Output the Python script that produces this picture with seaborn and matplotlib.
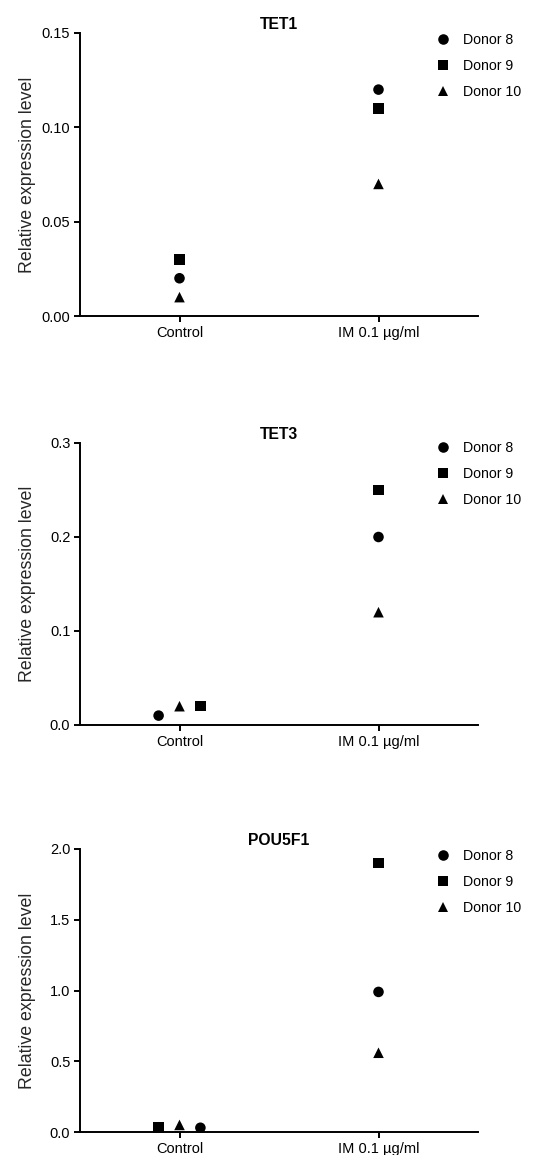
import numpy as np
import pandas as pd
import matplotlib
matplotlib.use("Agg")
import matplotlib.pyplot as plt
import matplotlib.ticker as mticker
from matplotlib.lines import Line2D
import seaborn as sns

# ── data ──────────────────────────────────────────────────────
GROUPS = ["Control", "IM 0.1 µg/ml"]
DONORS = ["Donor 8", "Donor 9", "Donor 10"]
GENES = ["TET1", "TET3", "POU5F1"]

# values per donor (8, 9, 10)
tet1_control = [0.02, 0.03, 0.01]
tet1_im = [0.12, 0.11, 0.07]
tet3_control = [0.01, 0.02, 0.02]
tet3_im = [0.20, 0.25, 0.12]
pou5f1_control = [0.03, 0.03, 0.05]
pou5f1_im = [0.99, 1.90, 0.56]

# y axis ranges / ticks per gene
YMAX = {"TET1": 0.15, "TET3": 0.3, "POU5F1": 2.0}
YSTEP = {"TET1": 0.05, "TET3": 0.1, "POU5F1": 0.5}
YFMT = {"TET1": "%.2f", "TET3": "%.1f", "POU5F1": "%.1f"}

# horizontal nudge to keep overlapping points apart (donor 8, 9, 10)
NUDGE = {
    "TET1": {"Control": [0, 0, 0], "IM 0.1 µg/ml": [0, 0, 0]},
    "TET3": {"Control": [-0.105, 0.105, 0], "IM 0.1 µg/ml": [0, 0, 0]},
    "POU5F1": {"Control": [0.105, -0.105, 0], "IM 0.1 µg/ml": [0, 0, 0]},
}

values = {
    "TET1": {"Control": tet1_control, "IM 0.1 µg/ml": tet1_im},
    "TET3": {"Control": tet3_control, "IM 0.1 µg/ml": tet3_im},
    "POU5F1": {"Control": pou5f1_control, "IM 0.1 µg/ml": pou5f1_im},
}

MARKERS = {"Donor 8": "o", "Donor 9": "s", "Donor 10": "^"}
MSIZE = 7.6  # points

# ── style ─────────────────────────────────────────────────────
sns.set_style("ticks")
plt.rcParams["font.family"] = ["Liberation Sans", "DejaVu Sans"]
plt.rcParams.update({
    "axes.linewidth": 1.4,
    "xtick.major.width": 1.4,
    "ytick.major.width": 1.4,
    "xtick.major.size": 4,
    "ytick.major.size": 4,
    "xtick.color": "black",
    "ytick.color": "black",
    "axes.edgecolor": "black",
    "text.color": "black",
})

W, H = 555, 1155
fig = plt.figure(figsize=(W / 100, H / 100), dpi=100)

# axes boxes in pixels: (left, top, right, bottom)
BOXES = {
    "TET1": (80, 33, 478, 316),
    "TET3": (80, 443, 478, 725),
    "POU5F1": (80, 849, 478, 1132),
}
LEGEND_TOP = {"TET1": 33, "TET3": 441, "POU5F1": 849}

for gene in GENES:
    l, t, r, b = BOXES[gene]
    ax = fig.add_axes([l / W, 1 - b / H, (r - l) / W, (b - t) / H])

    rows = []
    for gi, grp in enumerate(GROUPS):
        for di, donor in enumerate(DONORS):
            rows.append({"group": grp, "donor": donor,
                         "value": values[gene][grp][di],
                         "xpos": gi + NUDGE[gene][grp][di]})
    df = pd.DataFrame(rows)

    sns.scatterplot(data=df, x="xpos", y="value", style="donor",
                    style_order=DONORS, markers=MARKERS, color="black",
                    s=MSIZE ** 2, linewidth=0, ax=ax, clip_on=False,
                    zorder=3, legend=False)

    ax.set_xlim(-0.5, 1.5)
    ax.set_ylim(0, YMAX[gene])
    ax.set_xticks([0, 1])
    ax.set_xticklabels(GROUPS)
    ax.yaxis.set_major_locator(mticker.MultipleLocator(YSTEP[gene]))
    ax.yaxis.set_major_formatter(mticker.FormatStrFormatter(YFMT[gene]))
    ax.tick_params(axis="both", labelsize=10.5, pad=3)
    ax.set_xlabel("")
    ax.set_ylabel("Relative expression level", fontsize=12.8)
    ax.yaxis.set_label_coords(-0.11, 0.5)
    ax.set_title(gene, fontsize=11.3, fontweight="bold", pad=3)
    sns.despine(ax=ax)

    handles = [Line2D([], [], marker=MARKERS[d], color="black", ls="",
                      markersize=MSIZE, markeredgewidth=0, label=d)
               for d in DONORS]
    ax.legend(handles=handles, loc="upper left",
              bbox_to_anchor=(436 / W, 1 - LEGEND_TOP[gene] / H),
              bbox_transform=fig.transFigure, frameon=False,
              handlelength=1.0, handletextpad=0.9, labelspacing=0.86,
              borderpad=0, borderaxespad=0, fontsize=10.2)

fig.savefig("out.png", dpi=100, facecolor="white")
